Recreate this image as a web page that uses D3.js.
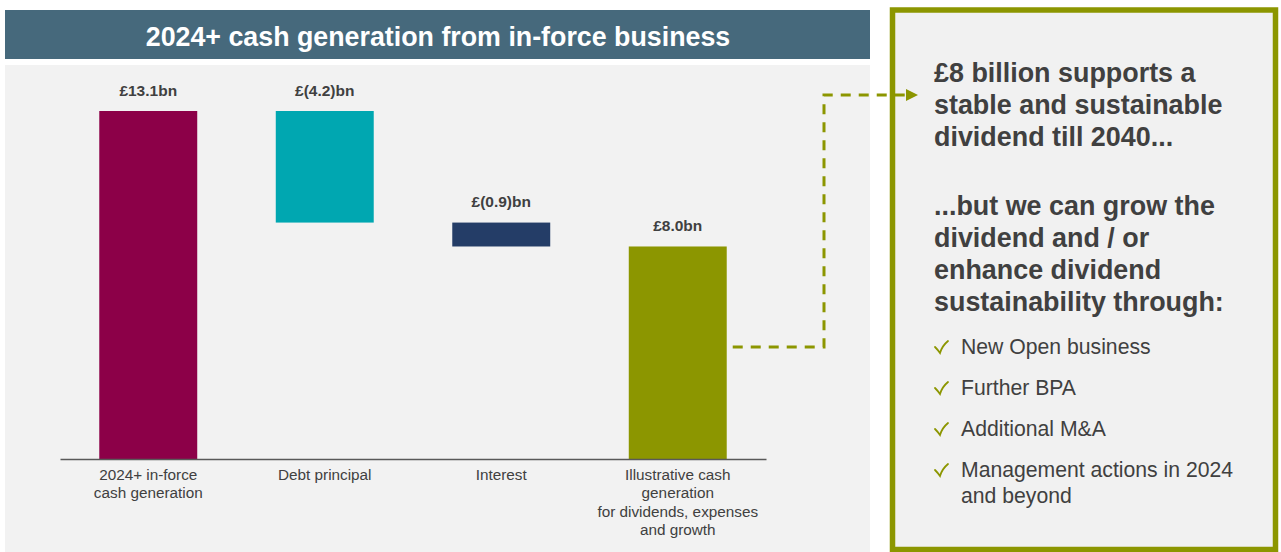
<!DOCTYPE html>
<html><head><meta charset="utf-8">
<script src="https://cdn.jsdelivr.net/npm/d3@7"></script>
<style>
html,body{margin:0;padding:0;background:#fff;}
svg{display:block;font-family:"Liberation Sans",Arial,sans-serif;}
</style></head>
<body><svg id="c" width="1281" height="552"></svg>
<script>
const title = "2024+ cash generation from in-force business";
const categories = ["2024+ in-force\ncash generation","Debt principal","Interest","Illustrative cash\ngeneration\nfor dividends, expenses\nand growth"];
const values = [13.1, -4.2, -0.9, 8.0];
const barTypes = ["total","delta","delta","total"];
const valueLabels = ["£13.1bn","£(4.2)bn","£(0.9)bn","£8.0bn"];
const barColors = ["#8c0048","#00a7b1","#243d67","#8c9600"];
const headline = ["£8 billion supports a","stable and sustainable","dividend till 2040..."];
const subhead = ["...but we can grow the","dividend and / or","enhance dividend","sustainability through:"];
const bullets = [["New Open business"],["Further BPA"],["Additional M&A"],["Management actions in 2024","and beyond"]];

const svg = d3.select("#c");
const olive = "#8c9600", txt = "#404040";
const FF = "Liberation Sans, Arial, sans-serif";

// panels
svg.append("rect").attr("x",5).attr("y",10).attr("width",865).attr("height",49).attr("fill","#46697c");
svg.append("text").attr("x",438).attr("y",46).attr("text-anchor","middle").attr("fill","#fff")
  .attr("font-size",26.8).attr("font-weight","bold").text(title);
svg.append("rect").attr("x",5).attr("y",65).attr("width",865).attr("height",487).attr("fill","#f2f2f2");

// waterfall computation
let run = 0;
const bars = values.map((v,i)=>{
  let y0,y1;
  if(barTypes[i]==="total"){ y0=0; y1=v; run=v; }
  else { y0=run+v; y1=run; run=run+v; }
  return {cat:categories[i], y0, y1, label:valueLabels[i], color:barColors[i]};
});

const x = d3.scaleBand().domain(categories).range([60,766]).paddingInner(0.445).paddingOuter(0.2225);
const y = d3.scaleLinear().domain([0,13.1]).range([459,111]);

const g = svg.append("g");
g.selectAll("rect.bar").data(bars).join("rect").attr("class","bar")
  .attr("x",d=>x(d.cat)).attr("width",x.bandwidth())
  .attr("y",d=>y(d.y1)).attr("height",d=>y(d.y0)-y(d.y1))
  .attr("fill",d=>d.color);
g.selectAll("text.val").data(bars).join("text").attr("class","val")
  .attr("x",d=>x(d.cat)+x.bandwidth()/2).attr("y",d=>y(d.y1)-15.5)
  .attr("text-anchor","middle").attr("font-size",15.5).attr("font-weight","bold").attr("fill",txt)
  .text(d=>d.label);

// axis
const ax = svg.append("g").attr("transform","translate(0,459)").call(d3.axisBottom(x).tickSize(0).tickFormat(""));
ax.select(".domain").attr("stroke","#595959").attr("stroke-width",1.3);
ax.selectAll(".tick").each(function(d){
  const lines = d.split("\n");
  const t = d3.select(this).append("text").attr("text-anchor","middle").attr("fill",txt)
    .attr("font-size",15.3).attr("font-family",FF);
  lines.forEach((l,i)=>t.append("tspan").attr("x",0).attr("y",20.5+i*18.5).text(l));
});

// right box
svg.append("rect").attr("x",892.5).attr("y",10).attr("width",383).attr("height",539.5)
  .attr("fill","#f1f1f1").attr("stroke",olive).attr("stroke-width",5.5);

// connector
const cx0 = x(categories[3])+x.bandwidth()+6;
svg.append("path").attr("d",`M${cx0},347H824V95H908`).attr("fill","none")
  .attr("stroke",olive).attr("stroke-width",3).attr("stroke-dasharray","10,8");
svg.append("path").attr("d","M906,89L918,95L906,101Z").attr("fill",olive);

const bt = svg.append("g").attr("fill",txt).attr("font-weight","bold").attr("font-size",26.9);
headline.forEach((l,i)=>bt.append("text").attr("x",934).attr("y",82+i*32).text(l));
subhead.forEach((l,i)=>bt.append("text").attr("x",934).attr("y",215+i*32).text(l));
let by = 354;
const bg = svg.append("g");
bullets.forEach(b=>{
  bg.append("path").attr("d",`M935,${by-7}Q938,${by-4} 940,${by-1}Q942,${by-8} 948,${by-13}`)
    .attr("fill","none").attr("stroke",olive).attr("stroke-width",1.8).attr("stroke-linecap","round");
  b.forEach((l,j)=>bg.append("text").attr("x",961).attr("y",by+j*25.5).attr("fill",txt).attr("font-size",21.2).text(l));
  by += 41;
});
</script></body></html>
